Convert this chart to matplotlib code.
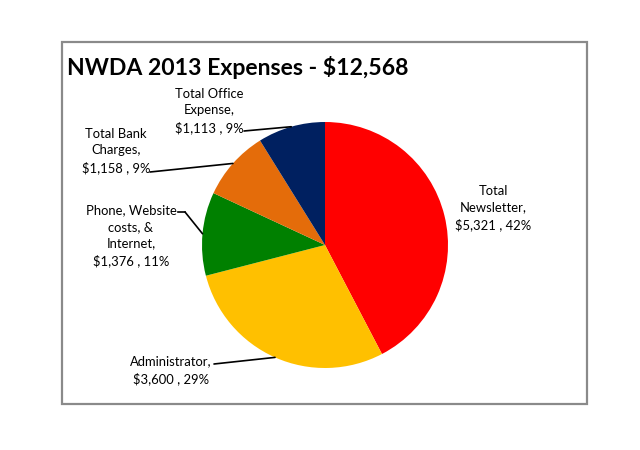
import numpy as np
import matplotlib.pyplot as plt
from matplotlib.patches import Rectangle

plt.rcParams['font.family'] = ['Lato', 'DejaVu Sans']

# data
categories = ["Total Newsletter", "Administrator", "Phone, Website costs, & Internet",
              "Total Bank Charges", "Total Office Expense"]
amounts = [5321, 3600, 1376, 1158, 1113]
percents = [42, 29, 11, 9, 9]
labels = ["Total\nNewsletter,\n$5,321 , 42%",
          "Administrator,\n$3,600 , 29%",
          "Phone, Website\ncosts, &\nInternet,\n$1,376 , 11%",
          "Total Bank\nCharges,\n$1,158 , 9%",
          "Total Office\nExpense,\n$1,113 , 9%"]
colors = ["#FF0000", "#FFC000", "#008000", "#E46C0A", "#002060"]

W, H = 640, 450
fig = plt.figure(figsize=(W / 100, H / 100), dpi=100)

# border box
fig.patches.append(Rectangle((62 / W, 1 - 404 / H), (587 - 62) / W, (404 - 42) / H,
                             transform=fig.transFigure, fill=False,
                             edgecolor="#8a8a8a", linewidth=1.6))

# pie axes (center 325,245 px, radius 123 px)
cx, cy, r = 325, 245, 123
ax = fig.add_axes([(cx - r) / W, (H - cy - r) / H, 2 * r / W, 2 * r / H])
wedges, _ = ax.pie(amounts, colors=colors, startangle=90, counterclock=False,
                   radius=1, wedgeprops=dict(linewidth=0))
ax.set_xlim(-1, 1)
ax.set_ylim(-1, 1)
ax.axis('off')

fig.text(67 / W, 1 - 75 / H, "NWDA 2013 Expenses - $12,568", fontsize=16.6,
         fontweight='bold', ha='left', va='baseline')

# label positions (px from top-left) and leader start points
label_pos = [(493, 208), (171, 370), (131, 236), (116, 151), (209, 111)]
leader_start = [None, (214, 364), (185, 212), (150, 172), (244, 131)]

for w, lab, (lx, ly), ls in zip(wedges, labels, label_pos, leader_start):
    fig.text(lx / W, 1 - ly / H, lab, ha='center', va='center', fontsize=9.4,
             linespacing=1.45, color="black")
    if ls is not None:
        mid = np.deg2rad((w.theta1 + w.theta2) / 2)
        ax.annotate("", xy=(np.cos(mid), np.sin(mid)), xycoords='data',
                    xytext=(ls[0], H - ls[1]), textcoords='figure pixels',
                    arrowprops=dict(arrowstyle='-', color='black', lw=1.2,
                                    shrinkA=0, shrinkB=0))

# short horizontal tick of the phone leader
fig.add_artist(plt.Line2D([178 / W, 185 / W], [1 - 212 / H, 1 - 212 / H],
                          color='black', lw=1.2))

fig.savefig("out.png", dpi=100)
